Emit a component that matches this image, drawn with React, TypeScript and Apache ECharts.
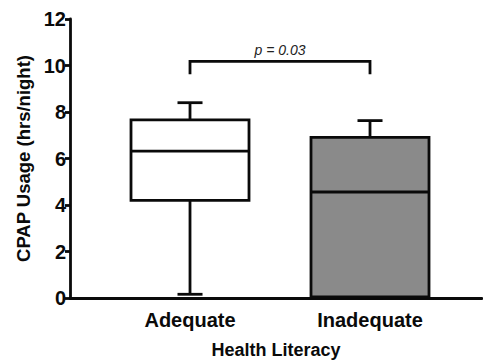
import React, { useEffect, useRef } from "react";
import * as echarts from "echarts";

const categories = ["Adequate", "Inadequate"];
const positions = [1, 2];
// [min, q1, median, q3, max]
const boxStats = [
  [0.16, 4.2, 6.32, 7.66, 8.4],
  [0, 0.05, 4.56, 6.91, 7.63],
];
const boxFills = ["#ffffff", "#8a8a8a"];
const yTicks = [0, 2, 4, 6, 8, 10, 12];
const bracketX = [1, 2];
const bracketY = [9.62, 10.18];
const pValueY = 10.66;
const pLabel = "p = 0.03";

const FONT = "'Liberation Sans', Arial, Helvetica, sans-serif";
const INK = "#0a0a0a";
const LW = 2.8;

export default function App() {
  const ref = useRef<HTMLDivElement>(null);
  useEffect(() => {
    if (!ref.current) return;
    const chart = echarts.init(ref.current, null, { renderer: "svg" });
    const boxData = positions.map((p, i) => [p, ...boxStats[i]]);
    chart.setOption({
      animation: false,
      backgroundColor: "#ffffff",
      grid: { left: 70, right: 1, top: 19, bottom: 64, containLabel: false, outerBoundsMode: "none" },
      xAxis: {
        type: "value",
        min: 0.3333,
        max: 2.6222,
        splitLine: { show: false },
        axisLine: { show: true, onZero: false, lineStyle: { color: INK, width: LW } },
        axisTick: { show: false },
        axisLabel: {
          customValues: positions,
          formatter: (v: number) => categories[Math.round(v) - 1] ?? "",
          fontFamily: FONT,
          fontWeight: "bold",
          fontSize: 20,
          color: INK,
          margin: 12,
        },
        name: "Health Literacy",
        nameLocation: "middle",
        nameGap: 43,
        nameTextStyle: { fontFamily: FONT, fontWeight: "bold", fontSize: 18, lineHeight: 18, color: INK },
      },
      yAxis: {
        type: "value",
        min: yTicks[0],
        max: yTicks[yTicks.length - 1],
        interval: 2,
        splitLine: { show: false },
        axisLine: { show: true, lineStyle: { color: INK, width: LW } },
        axisTick: { show: true, length: 5, lineStyle: { color: INK, width: LW } },
        axisLabel: {
          fontFamily: FONT,
          fontWeight: "bold",
          fontSize: 20,
          color: INK,
          margin: 4,
        },
        name: "CPAP Usage (hrs/night)",
        nameLocation: "middle",
        nameGap: 36,
        nameTextStyle: { fontFamily: FONT, fontWeight: "bold", fontSize: 18.5, color: INK },
      },
      series: [
        {
          type: "custom",
          clip: false,
          data: boxData,
          encode: { x: 0, y: [1, 2, 3, 4, 5] },
          renderItem: (params: any, api: any) => {
            const x = api.value(0);
            const mn = api.value(1);
            const q1 = api.value(2);
            const md = api.value(3);
            const q3 = api.value(4);
            const mx = api.value(5);
            const c = (v: number) => api.coord([x, v]);
            const halfBox = api.size([0.6556, 0])[0] / 2;
            const halfCap = api.size([0.139, 0])[0] / 2;
            const pMin = c(mn);
            const pQ1 = c(q1);
            const pMd = c(md);
            const pQ3 = c(q3);
            const pMax = c(mx);
            const cx = pMin[0];
            const ls = { stroke: INK, lineWidth: LW };
            return {
              type: "group",
              children: [
                { type: "line", shape: { x1: cx, y1: pMin[1], x2: cx, y2: pQ1[1] }, style: ls },
                { type: "line", shape: { x1: cx, y1: pQ3[1], x2: cx, y2: pMax[1] }, style: ls },
                { type: "line", shape: { x1: cx - halfCap, y1: pMin[1], x2: cx + halfCap, y2: pMin[1] }, style: ls },
                { type: "line", shape: { x1: cx - halfCap, y1: pMax[1], x2: cx + halfCap, y2: pMax[1] }, style: ls },
                {
                  type: "rect",
                  shape: { x: cx - halfBox, y: pQ3[1], width: halfBox * 2, height: pQ1[1] - pQ3[1] },
                  style: { fill: boxFills[params.dataIndex], stroke: INK, lineWidth: LW },
                },
                { type: "line", shape: { x1: cx - halfBox, y1: pMd[1], x2: cx + halfBox, y2: pMd[1] }, style: ls },
              ],
            };
          },
        },
        {
          type: "custom",
          clip: false,
          data: [[bracketX[0], bracketX[1], bracketY[0], bracketY[1], pValueY]],
          encode: { x: [0, 1], y: [2, 3, 4] },
          renderItem: (params: any, api: any) => {
            const a = api.coord([api.value(0), api.value(2)]);
            const b = api.coord([api.value(0), api.value(3)]);
            const d = api.coord([api.value(1), api.value(3)]);
            const e = api.coord([api.value(1), api.value(2)]);
            const t = api.coord([(api.value(0) + api.value(1)) / 2, api.value(4)]);
            return {
              type: "group",
              children: [
                {
                  type: "polyline",
                  shape: { points: [a, b, d, e] },
                  style: { stroke: INK, lineWidth: LW, fill: "none" },
                },
                {
                  type: "text",
                  x: t[0],
                  y: t[1],
                  style: {
                    text: pLabel,
                    fontFamily: FONT,
                    fontStyle: "italic",
                    fontSize: 14,
                    fill: "#222222",
                    align: "center",
                    verticalAlign: "middle",
                  },
                },
              ],
            };
          },
        },
      ],
    });
    return () => chart.dispose();
  }, []);
  return <div ref={ref} style={{ width: 483, height: 362, position: "absolute", left: 0, top: 0 }} />;
}
